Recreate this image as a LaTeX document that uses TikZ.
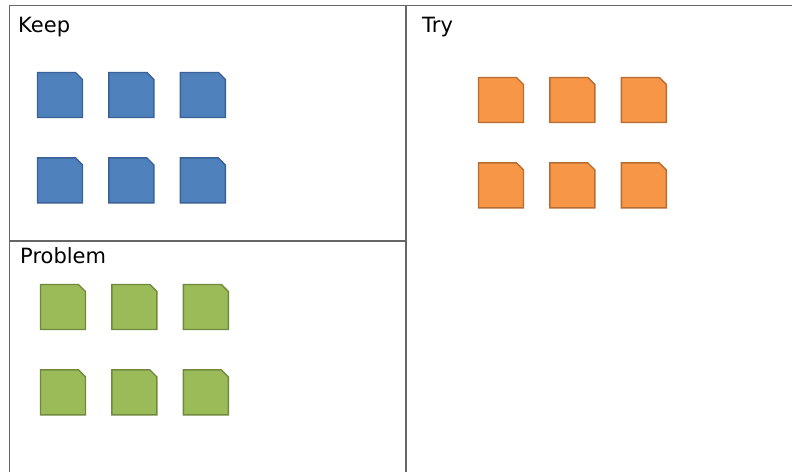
\documentclass[tikz,border=0pt]{standalone}
\usepackage{fontspec}
\setmainfont{DejaVu Sans}
\usetikzlibrary{positioning}

\definecolor{keepfill}{HTML}{4F81BD}
\definecolor{keepdraw}{HTML}{3A6195}
\definecolor{tryfill}{HTML}{F79646}
\definecolor{trydraw}{HTML}{B66D31}
\definecolor{problemfill}{HTML}{9BBB59}
\definecolor{problemdraw}{HTML}{71893F}
\definecolor{framegray}{HTML}{666666}

\begin{document}
\begin{tikzpicture}[
x=1pt, y=-1pt,
node distance=38pt and 24pt,
% Define card styles (square with the top right corner cut off)
card/.style 2 args = {rectangle, minimum width=47pt, minimum height=47pt, inner sep=0pt,
  path picture={\filldraw [fill=#1, draw=#2, line width=1.4pt]
    ([shift={(1pt,-1pt)}]path picture bounding box.north west)
    -- ([shift={(-8pt,-1pt)}]path picture bounding box.north east)
    -- ([shift={(-1pt,-8pt)}]path picture bounding box.north east)
    -- ([shift={(-1pt,1pt)}]path picture bounding box.south east)
    -- ([shift={(1pt,1pt)}]path picture bounding box.south west) -- cycle;}},
keepcard/.style = {card={keepfill}{keepdraw}},
trycard/.style = {card={tryfill}{trydraw}},
problemcard/.style = {card={problemfill}{problemdraw}},
title/.style = {anchor=base west, inner sep=0pt, font=\fontsize{21}{25}\selectfont},
frame/.style = {line width=1.6pt, draw=framegray}
]
\useasboundingbox (0,0) rectangle (792,472);

% Frame
\draw [frame] (9.5,472) -- (9.5,5.5) -- (792,5.5);
\draw [frame] (406,5.5) -- (406,472);
\draw [frame] (9.5,241) -- (406,241);

% Titles
\node (keepTitle) [title] at (18,32) {Keep};
\node (tryTitle) [title] at (422,32) {Try};
\node (problemTitle) [title] at (20,263) {Problem};

% Keep cards
\node (keepA) [keepcard] at (60,95) {};
\node (keepB) [keepcard, right=of keepA] {};
\node (keepC) [keepcard, right=of keepB] {};
\node (keepD) [keepcard, below=of keepA] {};
\node (keepE) [keepcard, right=of keepD] {};
\node (keepF) [keepcard, right=of keepE] {};

% Try cards
\node (tryA) [trycard] at (501,100) {};
\node (tryB) [trycard, right=of tryA] {};
\node (tryC) [trycard, right=of tryB] {};
\node (tryD) [trycard, below=of tryA] {};
\node (tryE) [trycard, right=of tryD] {};
\node (tryF) [trycard, right=of tryE] {};

% Problem cards
\node (problemA) [problemcard] at (63,307) {};
\node (problemB) [problemcard, right=of problemA] {};
\node (problemC) [problemcard, right=of problemB] {};
\node (problemD) [problemcard, below=of problemA] {};
\node (problemE) [problemcard, right=of problemD] {};
\node (problemF) [problemcard, right=of problemE] {};
\end{tikzpicture}
\end{document}
